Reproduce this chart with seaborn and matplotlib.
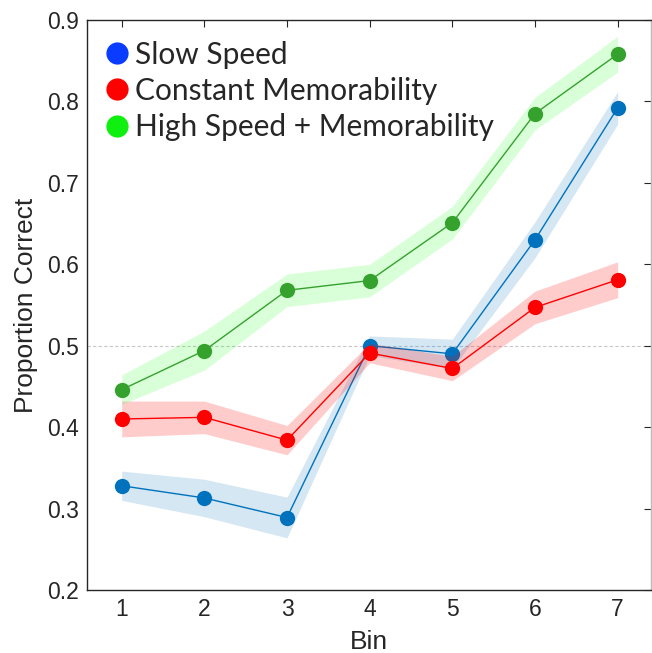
import numpy as np
import pandas as pd
import matplotlib
matplotlib.use("Agg")
import matplotlib.pyplot as plt
from matplotlib.lines import Line2D
import seaborn as sns

# values
bins = [1, 2, 3, 4, 5, 6, 7]
slow_speed = [0.328, 0.313, 0.289, 0.500, 0.490, 0.630, 0.792]
slow_speed_err = [0.018, 0.023, 0.025, 0.012, 0.018, 0.022, 0.020]
constant_mem = [0.410, 0.412, 0.384, 0.491, 0.472, 0.547, 0.581]
constant_mem_err = [0.022, 0.020, 0.018, 0.012, 0.015, 0.020, 0.022]
high_speed_mem = [0.446, 0.494, 0.568, 0.580, 0.651, 0.785, 0.858]
high_speed_mem_err = [0.018, 0.024, 0.020, 0.020, 0.020, 0.020, 0.022]

labels = ["Slow Speed", "Constant Memorability", "High Speed + Memorability"]
line_colors = ["#0072BD", "#FF0000", "#35A22D"]
band_colors = ["#0072BD", "#FF0000", "#00FF00"]
band_alpha = [0.17, 0.20, 0.15]
legend_colors = ["#0A3CFF", "#FF0000", "#10F010"]

sns.set_style("white")
plt.rcParams['font.family'] = ['Liberation Sans', 'DejaVu Sans']

fig = plt.figure(figsize=(6.52, 6.53), dpi=100)
ax = fig.add_axes([0.1334, 0.0965, 0.8646, 0.8729])

ax.axhline(0.5, color="#C8C8C8", lw=0.8, ls=(0, (3, 2)), zorder=0)

series = [(slow_speed, slow_speed_err), (constant_mem, constant_mem_err),
          (high_speed_mem, high_speed_mem_err)]
for i, (vals, err) in enumerate(series):
    df = pd.DataFrame({"Bin": bins, "val": vals})
    lo = np.array(vals) - np.array(err)
    hi = np.array(vals) + np.array(err)
    ax.fill_between(bins, lo, hi, color=band_colors[i], alpha=band_alpha[i],
                    lw=0, zorder=2 + 3 * i)
    sns.lineplot(data=df, x="Bin", y="val", ax=ax, color=line_colors[i],
                 lw=1.0, marker="o", markersize=11, markeredgewidth=0,
                 zorder=3 + 3 * i)

ax.set_xlim(0.58, 7.4)
ax.set_ylim(0.2, 0.9)
ax.set_xticks(bins)
ax.set_yticks(np.arange(0.2, 0.91, 0.1))
ax.set_yticklabels([f"{v:.1f}" for v in np.arange(0.2, 0.91, 0.1)])
ax.tick_params(direction="in", length=5, width=0.8, color="#262626",
               labelsize=16.5, labelcolor="#262626", top=True, right=True,
               pad=6)
ax.set_xlabel("Bin", fontsize=19, color="#262626", labelpad=6)
ax.set_ylabel("Proportion Correct", fontsize=19, color="#262626", labelpad=6)
for side in ["left", "bottom", "top"]:
    ax.spines[side].set_color("#262626")
    ax.spines[side].set_linewidth(1.0)
ax.spines["right"].set_color("#BBBBBB")
ax.spines["right"].set_linewidth(1.0)

handles = [Line2D([], [], ls="none", marker="o", markersize=16,
                  markerfacecolor=c, markeredgewidth=0) for c in legend_colors]
ax.legend(handles, labels, loc="upper left", bbox_to_anchor=(-0.005, 1.0),
          frameon=False, prop={"family": ["Lato", "DejaVu Sans"], "size": 21.5},
          handlelength=0.8, handletextpad=0.2, labelspacing=0.27,
          borderaxespad=0.3)

fig.savefig("out.png", dpi=100)
